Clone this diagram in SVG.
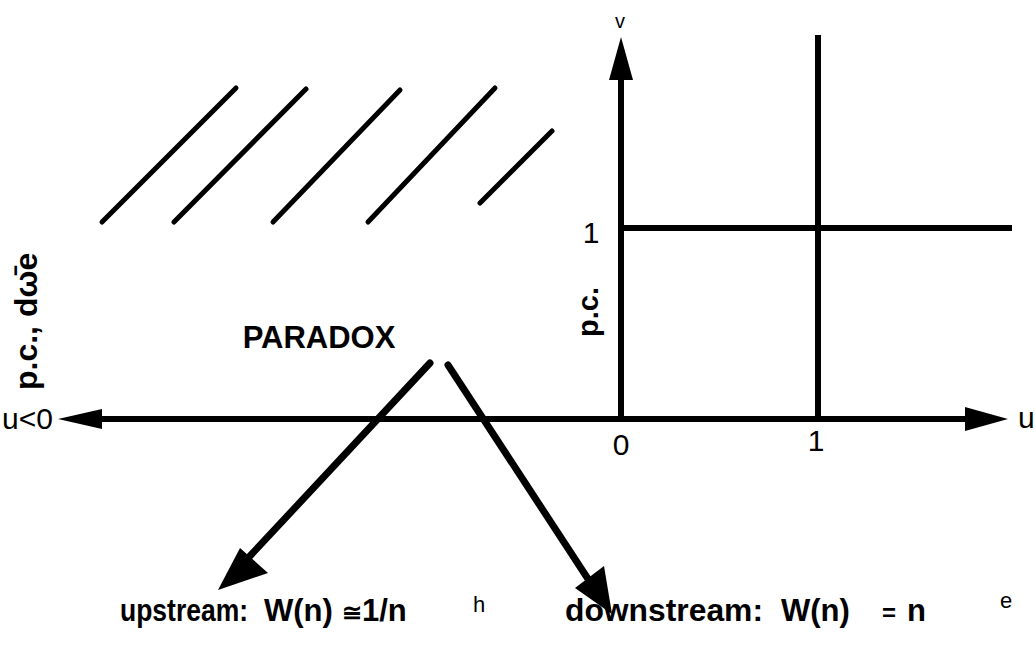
<svg xmlns="http://www.w3.org/2000/svg" width="1036" height="646" viewBox="0 0 1036 646">
<style>
.ln{stroke:#000;stroke-width:5;fill:none;stroke-linecap:round}
.ax{stroke:#000;stroke-width:6;fill:none}
.ar{stroke:#000;stroke-width:7;fill:none;stroke-linecap:round}
.hd{fill:#000}
.b{font-family:"Liberation Sans",Arial,sans-serif;font-weight:bold;fill:#000}
.n{font-family:"Liberation Sans",Arial,sans-serif;fill:#000}
</style>
<rect width="1036" height="646" fill="#fff"/>
<g id="hatch">
<line class="ln" x1="102" y1="222" x2="236" y2="88"/>
<line class="ln" x1="174" y1="222" x2="306" y2="89"/>
<line class="ln" x1="273" y1="222" x2="400" y2="90"/>
<line class="ln" x1="368" y1="222" x2="495" y2="88"/>
<line class="ln" x1="480" y1="203" x2="552" y2="131"/>
</g>
<g id="axes">
<line class="ax" x1="95" y1="419" x2="970" y2="419"/>
<polygon class="hd" points="58,419 102,409 102,429"/>
<polygon class="hd" points="1008,419 965,407 965,431"/>
<line class="ax" x1="621" y1="420" x2="621" y2="75"/>
<polygon class="hd" points="621,37 609,80 633,80"/>
<line class="ax" x1="818" y1="35" x2="818" y2="420"/>
<line class="ax" x1="621" y1="228" x2="1012" y2="228"/>
</g>
<g id="connectors">
<line class="ar" x1="430" y1="363" x2="250" y2="556"/>
<polygon class="hd" points="218,590 240,548 268,573"/>
<line class="ar" x1="448" y1="365" x2="590" y2="582"/>
<polygon class="hd" points="612,614 575,588 604,566"/>
</g>
<g id="labels">
<text class="n" x="620" y="28" font-size="20" text-anchor="middle">v</text>
<text class="n" x="1018" y="428" font-size="30">u</text>
<text class="n" x="2" y="429" font-size="30">u&lt;0</text>
<text class="n" x="621" y="455" font-size="30" text-anchor="middle">0</text>
<text class="n" x="816" y="451" font-size="30" text-anchor="middle">1</text>
<text class="n" x="591" y="243" font-size="30" text-anchor="middle">1</text>
<text class="b" transform="translate(598,337) rotate(-90)" font-size="29">p.c.</text>
<text class="b" transform="translate(37,390) rotate(-90)" font-size="32">p.c., dω̄e</text>
<text class="b" x="319" y="348" font-size="31" text-anchor="middle">PARADOX</text>
<text class="b" x="120" y="621" font-size="31" textLength="128" lengthAdjust="spacingAndGlyphs">upstream:</text>
<text class="b" x="264" y="621" font-size="31">W(n)</text>
<text class="b" x="342" y="621" font-size="24">≅</text>
<text class="b" x="362" y="621" font-size="31">1/n</text>
<text class="n" x="473" y="612" font-size="22">h</text>
<text class="b" x="565" y="621" font-size="31" textLength="198" lengthAdjust="spacingAndGlyphs">downstream:</text>
<text class="b" x="781" y="621" font-size="31">W(n)</text>
<text class="b" x="882" y="621" font-size="24">=</text>
<text class="b" x="907" y="621" font-size="31">n</text>
<text class="n" x="1000" y="608" font-size="22">e</text>
</g>
</svg>
